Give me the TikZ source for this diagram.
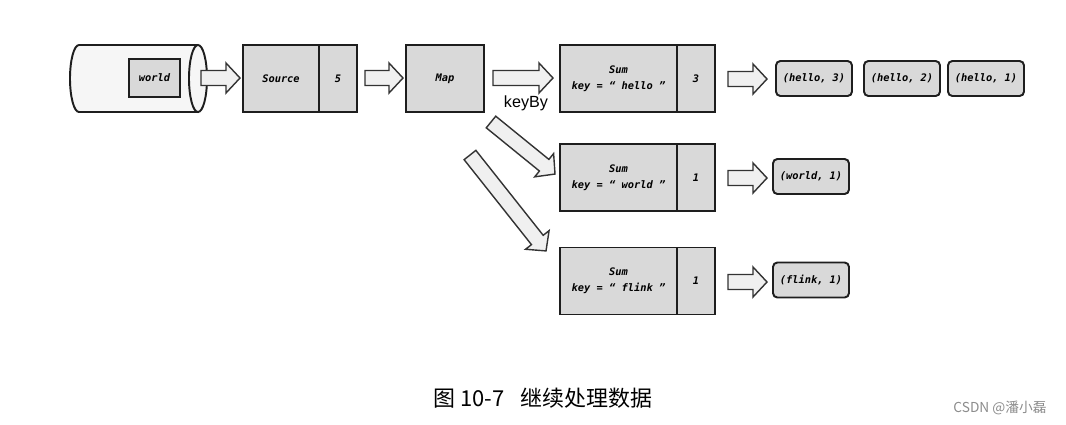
\documentclass[tikz,border=0pt]{standalone}
\usepackage{fontspec}
\setmainfont{Liberation Sans}
\setmonofont{DejaVu Sans Mono}
\newfontfamily\cjk{Noto Sans CJK SC}
\usetikzlibrary{positioning}
\newlength\pxu
\setlength\pxu{0.02cm}
\definecolor{boxgray}{HTML}{D9D9D9}
\definecolor{arrowgray}{HTML}{F0F0F0}
\definecolor{drumgray}{HTML}{F6F6F6}
\definecolor{linegray}{HTML}{1E1E1E}
\newcommand\opfont{\ttfamily\bfseries\itshape\fontsize{5.9}{9}\selectfont}
\tikzset{opbox/.style={draw=linegray, fill=boxgray, line width=1.1pt, outer sep=0pt,
		minimum height=67*\pxu, inner sep=0pt, align=center, font=\opfont},
	resbox/.style={draw=linegray, fill=boxgray, line width=1.1pt, rounded corners=2.5pt,
		minimum width=76*\pxu, minimum height=35*\pxu, inner sep=0pt, font=\opfont},
	drum/.style={draw=linegray, fill=drumgray, line width=1.1pt},
	arrowbody/.style={draw=black!80, fill=arrowgray, line width=0.8pt},
	fatarrow/.pic={\draw[arrowbody] (0,-7.5) -- (#1-14,-7.5) -- (#1-14,-15) -- (#1,0)
		-- (#1-14,15) -- (#1-14,7.5) -- (0,7.5) -- cycle;}}

\begin{document}
\begin{tikzpicture}[x=0.02cm, y=-0.02cm]
		\fill[white] (0,0) rectangle (1066,424);
		\useasboundingbox (0,0) rectangle (1066,424);
		% source drum
		\draw[drum] (198,45) -- (79,45) arc[start angle=270, end angle=90, x radius=9, y radius=33.5] -- (198,112);
		\draw[drum] (198,78.5) ellipse[x radius=9, y radius=33.5];
		\node[opbox, minimum width=51*\pxu, minimum height=38*\pxu] (word) at (154.5,78) {world};
		% operators
		\node[opbox, minimum width=76*\pxu] (srcL) at (281,78.5) {Source};
		\node[opbox, minimum width=38*\pxu, right=0pt of srcL] (srcR) {5};
		\node[opbox, minimum width=78*\pxu] (map) at (445,78.5) {Map};
		\node[opbox, minimum width=117*\pxu] (sumA) at (618.5,78.5) {Sum\\key = “ hello ”};
		\node[opbox, minimum width=38*\pxu, right=0pt of sumA] (sumAc) {3};
		\node[opbox, minimum width=117*\pxu] (sumB) at (618.5,177.5) {Sum\\key = “ world ”};
		\node[opbox, minimum width=38*\pxu, right=0pt of sumB] (sumBc) {1};
		\node[opbox, minimum width=117*\pxu] (sumC) at (618.5,281) {Sum\\key = “ flink ”};
		\node[opbox, minimum width=38*\pxu, right=0pt of sumC] (sumCc) {1};
		% results
		\node[resbox] (hello3) at (814,78.5) {(hello, 3)};
		\node[resbox] (hello2) at (902,78.5) {(hello, 2)};
		\node[resbox] (hello1) at (986,78.5) {(hello, 1)};
		\node[resbox] (world1) at (811,176.5) {(world, 1)};
		\node[resbox] (flink1) at (811,280) {(flink, 1)};
		% arrows
		\pic at (201,78) {fatarrow=39};
		\pic at (365,78) {fatarrow=38};
		\pic at (493,78) {fatarrow=60};
		\pic[rotate=-39.1] at (491,122) {fatarrow=82.5};
		\pic[rotate=-51.6] at (470,155) {fatarrow=122.4};
		\pic at (728,79) {fatarrow=39};
		\pic at (728,178) {fatarrow=39};
		\pic at (728,282) {fatarrow=39};
		\node[font=\fontsize{9.2}{11}\selectfont] (keyby) at (526,103) {keyBy};
		% caption
		\node[font=\cjk\fontsize{12.5}{14}\selectfont] (cap) at (543,398) {图 10-7\hspace{0.75em}继续处理数据};
		\node[font=\cjk\fontsize{7.8}{9}\selectfont, text=black!45] (mark) at (1000,408) {CSDN @潘小磊};
		\end{tikzpicture}
\end{document}
